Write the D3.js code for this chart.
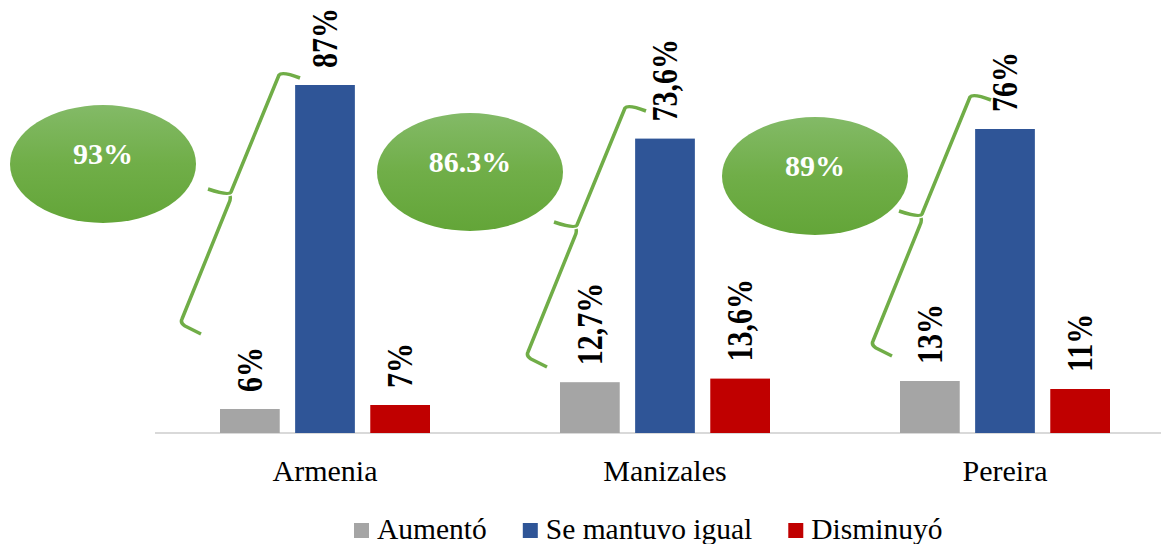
<!DOCTYPE html>
<html>
<head>
<meta charset="utf-8">
<script src="https://cdn.jsdelivr.net/npm/d3@7"></script>
<style>
  html, body { margin: 0; padding: 0; background: #fff; }
</style>
</head>
<body>
<svg id="chart" width="1161" height="544"></svg>
<script>
// ---- data ----
const categories = ["Armenia", "Manizales", "Pereira"];
const seriesNames = ["Aumentó", "Se mantuvo igual", "Disminuyó"];
const aumento = [6, 12.7, 13];
const seMantuvo = [87, 73.6, 76];
const disminuyo = [7, 13.6, 11];
const valueLabels = [
  ["6%", "87%", "7%"],
  ["12,7%", "73,6%", "13,6%"],
  ["13%", "76%", "11%"]
];
const bubbleLabels = ["93%", "86.3%", "89%"];

// ---- style / layout ----
const FONT = '"Liberation Serif"';
const colors = ["#a5a5a5", "#2f5597", "#c00000"];
const green = "#70ad47";
// annotation placement (pixel offsets relative to each group's band start)
const braceTop = [{dx: 124, y: 73}, {dx: 130, y: 106}, {dx: 135, y: 95}];
const bubbleCenter = [{dx: -52, y: 164}, {dx: -25, y: 172}, {dx: -20, y: 176}];

const svg = d3.select("#chart");
const W = 1161, H = 544;
const baseY = 433;

const x0 = d3.scaleBand().domain(categories).range([155, 1175]).padding(0);
const x1 = d3.scaleBand().domain(seriesNames).range([65, 275]).paddingInner(0.205).paddingOuter(0);
const y = d3.scaleLinear().domain([0, 100]).range([baseY, 33]);

const seriesValues = [aumento, seMantuvo, disminuyo];
const rows = categories.map((c, i) => ({
  cat: c, i,
  vals: seriesNames.map((s, j) => ({ s, j, v: seriesValues[j][i], label: valueLabels[i][j] }))
}));

// gradient
const defs = svg.append("defs");
const grad = defs.append("linearGradient").attr("id", "gg").attr("x1", 0).attr("y1", 0).attr("x2", 0).attr("y2", 1);
grad.append("stop").attr("offset", "0%").attr("stop-color", "#83ba67");
grad.append("stop").attr("offset", "50%").attr("stop-color", "#70ae48");
grad.append("stop").attr("offset", "100%").attr("stop-color", "#63a538");

// axis line (category axis)
const xAxis = d3.axisBottom(x0).tickSize(0).tickPadding(0);
const gx = svg.append("g").attr("transform", `translate(0,${baseY})`).call(xAxis);
gx.select(".domain").attr("stroke", "#d9d9d9").attr("stroke-width", 2).attr("d", `M155,0H${W}`);
gx.selectAll(".tick text")
  .attr("y", 48).attr("dy", 0)
  .style("font-family", FONT)
  .style("font-size", "30px").attr("fill", "#000");

// bars
const groups = svg.append("g").selectAll("g.grp").data(rows).join("g")
  .attr("class", "grp")
  .attr("transform", d => `translate(${x0(d.cat)},0)`);

groups.selectAll("rect").data(d => d.vals).join("rect")
  .attr("x", d => x1(d.s))
  .attr("width", x1.bandwidth())
  .attr("y", d => y(d.v))
  .attr("height", d => baseY - y(d.v))
  .attr("fill", d => colors[d.j]);

// value labels (rotated)
groups.selectAll("text.val").data(d => d.vals).join("text")
  .attr("class", "val")
  .attr("transform", d => `translate(${x1(d.s) + x1.bandwidth() / 2},${y(d.v) - 17}) rotate(-90) scale(1,1.2)`)
  .attr("dy", "0.34em")
  .attr("text-anchor", "start")
  .style("font-family", FONT)
  .style("font-size", "30px")
  .style("font-weight", "bold")
  .attr("fill", "#000")
  .text(d => d.label);

// braces
function bracePath(tx, ty) {
  const p = (dx, dy) => [tx + dx, ty + dy];
  const e1 = p(21, 5), T = p(0, 0), M = p(-50, 123), tip = p(-71, 116), B = p(-98, 250), e2 = p(-78, 261);
  return `M${e1[0]},${e1[1]} Q${T[0] + 3},${T[1] - 2} ${T[0]},${T[1] + 2}` +
    ` L${M[0] + 2},${M[1] - 4} Q${M[0]},${M[1]} ${tip[0]},${tip[1]}` +
    ` M${M[0] + 1},${M[1]} Q${M[0] + 2},${M[1] + 3} ${M[0]},${M[1] + 7}` +
    ` L${B[0] + 1},${B[1] - 4} Q${B[0] - 1},${B[1]} ${B[0] + 4},${B[1] + 3} L${e2[0]},${e2[1]}`;
}
svg.append("g").selectAll("path").data(rows).join("path")
  .attr("d", d => bracePath(x0(d.cat) + braceTop[d.i].dx, braceTop[d.i].y))
  .attr("fill", "none").attr("stroke", green).attr("stroke-width", 3.5)
  .attr("stroke-linejoin", "round").attr("stroke-linecap", "butt");

// bubbles
const bub = svg.append("g").selectAll("g").data(rows).join("g")
  .attr("transform", d => `translate(${x0(d.cat) + bubbleCenter[d.i].dx},${bubbleCenter[d.i].y})`);
bub.append("ellipse").attr("rx", 93).attr("ry", 59).attr("fill", "url(#gg)");
bub.append("text")
  .attr("text-anchor", "middle")
  .attr("y", 0)
  .style("font-family", FONT)
  .style("font-size", "30px").style("font-weight", "bold").attr("fill", "#fff")
  .text(d => bubbleLabels[d.i]);

// legend
const legend = svg.append("g").attr("transform", "translate(0,539)");
let lx = 354;
seriesNames.forEach((s, j) => {
  legend.append("rect").attr("x", lx).attr("y", -16).attr("width", 15).attr("height", 15).attr("fill", colors[j]);
  const t = legend.append("text").attr("x", lx + 23).attr("y", 0)
    .style("font-family", FONT)
    .style("font-size", "29.5px").attr("fill", "#000").text(s);
  const w = t.node().getComputedTextLength();
  lx = lx + 23 + w + 36;
});
</script>
</body>
</html>
